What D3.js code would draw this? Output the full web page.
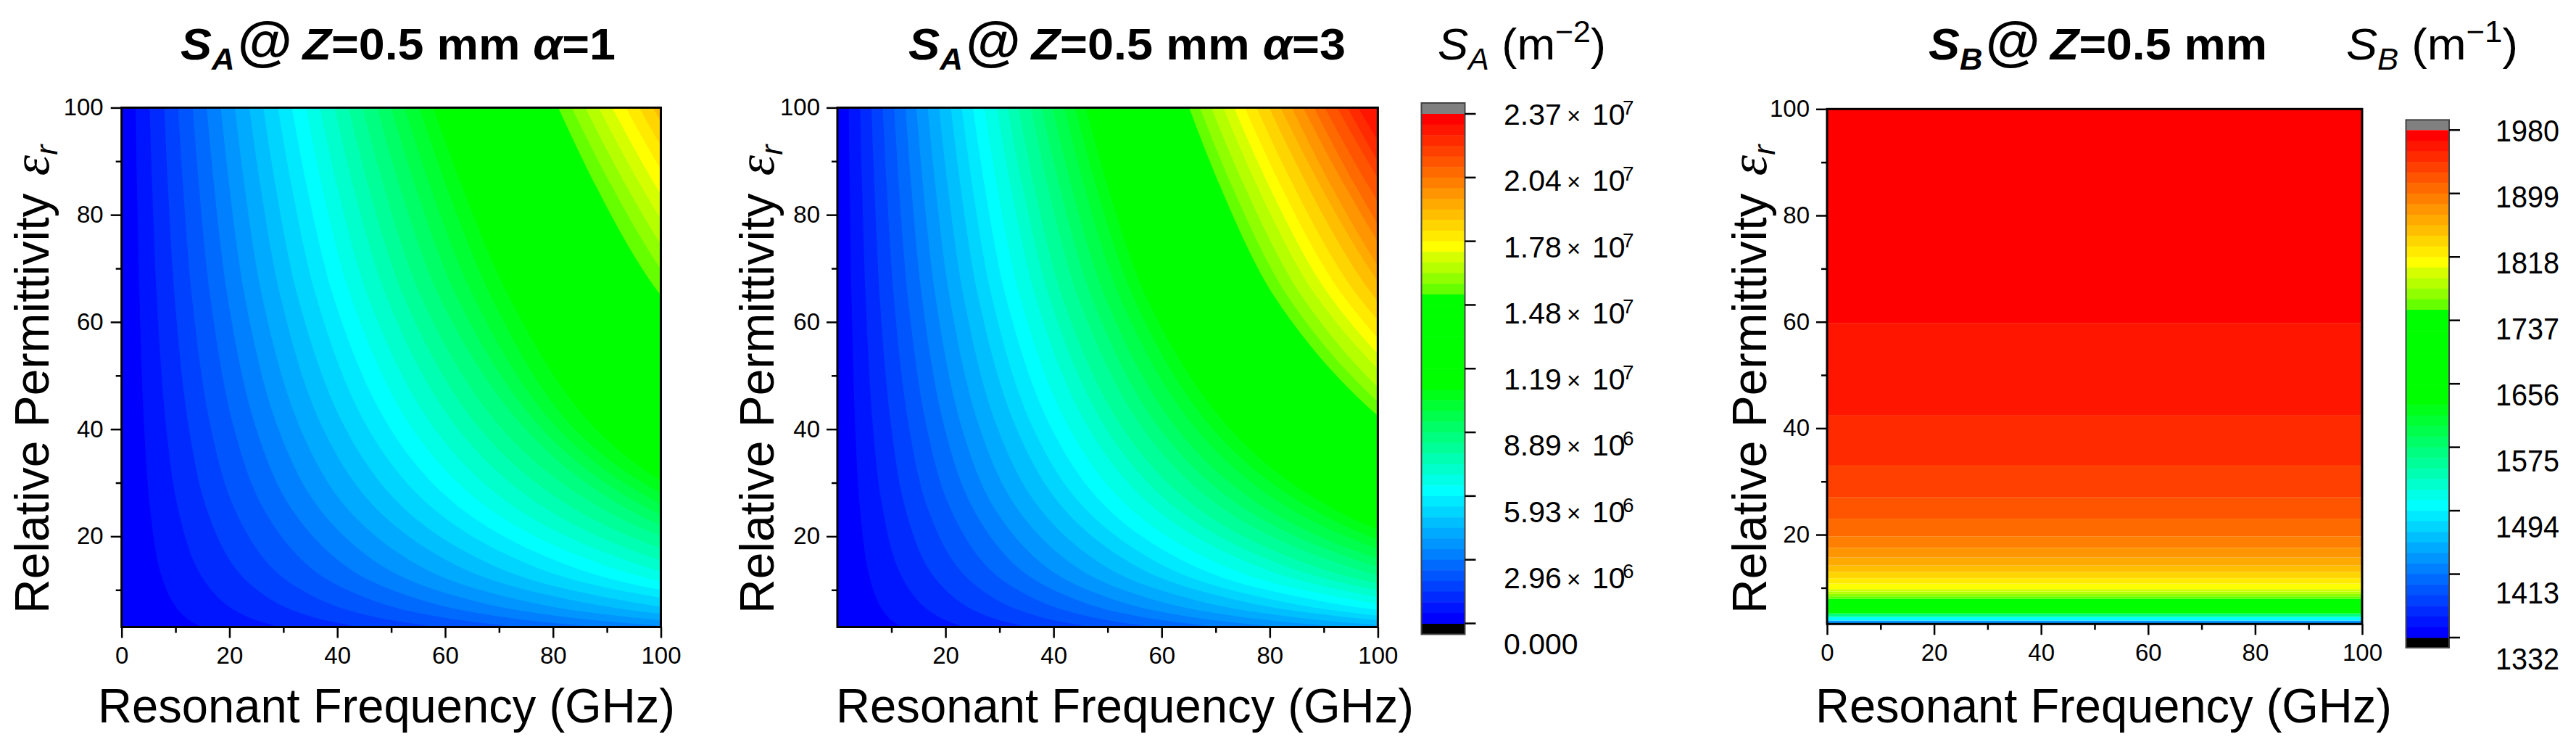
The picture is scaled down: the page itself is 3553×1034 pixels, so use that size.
<!DOCTYPE html>
<html>
<head>
<meta charset="utf-8">
<style>
  html, body { margin: 0; padding: 0; background: #fff; }
  text { font-family: "Liberation Sans", Arial, sans-serif; fill: #000; }
</style>
<script src="https://cdn.jsdelivr.net/npm/d3@7"></script>
</head>
<body>
<svg id="chart" width="3553" height="1034"></svg>
<script>
// colour bands, top of the colour bar (index 0) to bottom (index 47)
const bandColors = [
  "#ff0000", "#ff1500", "#ff2a00", "#ff4000", "#ff5500", "#ff6a00", "#ff8000", "#ff9500",
  "#ffaa00", "#ffbf00", "#ffd500", "#ffea00", "#ffff00", "#d5ff00", "#b5ff00", "#90ff00",
  "#66ff00", "#00ff00", "#00ff00", "#00ff00", "#00ff00", "#00ff00", "#00ff00", "#00ff00",
  "#00ff00", "#00ff00", "#00ff19", "#00ff33", "#00ff4d", "#00ff66", "#00ff80", "#00ff99",
  "#00ffb3", "#00ffcc", "#00ffe6", "#00ffff", "#00eaff", "#00d5ff", "#00bfff", "#00aaff",
  "#0095ff", "#0080ff", "#006aff", "#0055ff", "#0040ff", "#002aff", "#0015ff", "#0000ff"
];

const epsRows = [3.07, 5, 8, 14, 25, 40, 65, 100];

// S_A alpha=1: band entered when crossing a contour, then contour frequency (GHz) per epsRow
const sa1Bands = [46, 45, 44, 43, 42, 41, 40, 39, 38, 37, 36, 35, 34, 33, 32, 31, 30, 29, 28, 27, 26, 25,
  16, 15, 14, 13, 12, 11, 10, 9];
const sa1Contours = [
  [14.8, 11.7, 9.3, 7.0, 5.3, 4.2, 3.3, 2.6],
  [29.4, 23.3, 18.5, 14.0, 10.5, 8.3, 6.5, 5.2],
  [44.2, 35.2, 28.0, 21.1, 15.8, 12.5, 9.8, 7.9],
  [58.8, 46.7, 37.2, 28.0, 21.0, 16.6, 13.0, 10.5],
  [73.9, 58.7, 46.7, 35.2, 26.4, 20.9, 16.4, 13.2],
  [88.5, 70.3, 55.9, 42.2, 31.6, 25.0, 19.6, 15.8],
  [103, 81.9, 65.1, 49.1, 36.8, 29.1, 22.8, 18.4],
  [118, 93.5, 74.3, 56.1, 42, 33.2, 26, 21],
  [133, 105, 83.9, 63.3, 47.4, 37.4, 29.4, 23.7],
  [147, 117, 93.1, 70.2, 52.6, 41.6, 32.6, 26.3],
  [162, 129, 103, 77.4, 58, 45.8, 36, 29],
  [177, 141, 112, 84.4, 63.2, 49.9, 39.2, 31.6],
  [192, 152, 121, 91.3, 68.4, 54, 42.4, 34.2],
  [206, 164, 130, 98.3, 73.6, 58.1, 45.6, 36.8],
  [221, 176, 140, 105, 79, 62.4, 49, 39.5],
  [236, 187, 149, 112, 84.2, 66.5, 52.2, 42.1],
  [250, 199, 158, 119, 89.4, 70.6, 55.4, 44.7],
  [265, 211, 168, 125, 94, 74.9, 58.8, 47.4],
  [280, 223, 177, 130, 98, 78, 62, 50],
  [294, 234, 186, 136, 102, 81, 65.1, 52.5],
  [309, 246, 195, 142, 106, 84, 68.4, 55.2],
  [324, 257, 205, 148, 110, 88, 71.7, 57.8],
  [454, 360, 287, 216, 162, 128, 100, 81],
  [468, 372, 296, 223, 167, 132, 103.5, 83.5],
  [482, 383, 304, 230, 172, 136, 106.6, 86],
  [496, 394, 313, 236, 177, 140, 109.7, 88.5],
  [510, 405, 322, 243, 182, 144, 112.8, 91],
  [524, 416, 331, 250, 187, 148, 116, 93.5],
  [538, 427, 340, 256, 192, 152, 119, 96],
  [552, 438, 349, 263, 197, 156, 122, 98.5]
];

// S_A alpha=3
const sa3Bands = [46, 45, 44, 43, 42, 41, 40, 39, 38, 37, 36, 35, 34, 33, 32, 31, 30, 29, 28, 27, 26, 25,
  16, 15, 14, 13, 12, 11, 10, 9, 8, 7, 6, 5, 4, 3, 2, 1];
const sa3Contours = [
  [11.8, 9.3, 7.4, 5.6, 4.2, 3.3, 2.6, 2.1],
  [23.5, 18.7, 14.9, 11.2, 8.4, 6.6, 5.2, 4.2],
  [35.3, 28, 22.3, 16.8, 12.6, 10, 7.8, 6.3],
  [47, 37.4, 29.7, 22.4, 16.8, 13.3, 10.4, 8.4],
  [58.8, 46.7, 37.2, 28, 21, 16.6, 13, 10.5],
  [70.6, 56.1, 44.6, 33.6, 25.2, 19.9, 15.6, 12.6],
  [81.8, 65, 51.7, 39, 29.2, 23.1, 18.1, 14.6],
  [93.5, 74.3, 59.1, 44.6, 33.4, 26.4, 20.7, 16.7],
  [105, 83.7, 66.6, 50.2, 37.6, 29.7, 23.3, 18.8],
  [118, 93.5, 74.3, 56.1, 42, 33.2, 26, 21],
  [129, 102, 81.4, 61.4, 46, 36.3, 28.5, 23],
  [141, 112, 88.9, 67, 50.2, 39.7, 31.1, 25.1],
  [152, 121, 96.3, 72.6, 54.4, 43, 33.7, 27.2],
  [165, 131, 104, 78.8, 59, 46.6, 36.6, 29.5],
  [176, 140, 112, 84.1, 63, 49.8, 39.1, 31.5],
  [188, 149, 119, 89.4, 67, 52.9, 41.5, 33.5],
  [200, 159, 127, 95.6, 71.6, 56.6, 44.4, 35.8],
  [212, 168, 134, 101, 75.6, 59.7, 46.9, 37.8],
  [223, 177, 141, 106, 79.6, 62.9, 49.4, 39.8],
  [235, 187, 149, 112, 84, 66.4, 52.1, 42],
  [246, 196, 156, 117, 88, 69.5, 54.6, 44],
  [258, 205, 163, 123, 92, 72.7, 57, 46],
  [365, 290, 230, 174, 130, 103, 80.7, 65.1],
  [376, 299, 238, 179, 134, 106, 83.2, 67.1],
  [388, 308, 245, 185, 138, 109, 85.8, 69.2],
  [400, 318, 253, 191, 143, 113, 88.5, 71.4],
  [411, 327, 260, 196, 147, 116, 91, 73.4],
  [422, 336, 267, 201, 151, 119, 93.5, 75.4],
  [435, 345, 275, 207, 155, 123, 96.2, 77.6],
  [447, 356, 283, 213, 160, 126, 99.1, 79.9],
  [459, 365, 290, 219, 164, 130, 102, 82],
  [471, 374, 298, 225, 168, 133, 104, 84.1],
  [483, 384, 305, 230, 172, 136, 107, 86.2],
  [494, 392, 312, 235, 176, 139, 109, 88.2],
  [505, 401, 319, 241, 180, 143, 112, 90.2],
  [518, 412, 327, 247, 185, 146, 115, 92.5],
  [529, 420, 334, 252, 189, 149, 117, 94.4],
  [540, 429, 341, 257, 193, 152, 120, 96.4]
];

// S_B only changes with permittivity: band entered at each permittivity value
const sbEps = [3.2, 3.27, 3.86, 4.55, 5.18, 7.95, 8.4, 8.85, 9.3, 9.77, 10.8, 11.8, 13, 14.2, 15.7, 17.5, 19.7, 23, 27, 33.1, 42.5, 59.8];
const sbBands = [47, 40, 35, 30, 25, 16, 15, 14, 13, 12, 11, 10, 9, 8, 7, 6, 5, 4, 3, 2, 1, 0];

const xMajor = [0, 20, 40, 60, 80, 100];
const xMajorNoZero = [20, 40, 60, 80, 100];
const xMinor = [10, 30, 50, 70, 90];
const yMajor = [20, 40, 60, 80, 100];
const yMinor = [10, 30, 50, 70, 90];

const saBarLabels = [["2.37", "7"], ["2.04", "7"], ["1.78", "7"], ["1.48", "7"], ["1.19", "7"], ["8.89", "6"], ["5.93", "6"], ["2.96", "6"], ["0.000", ""]];
const sbBarLabels = ["1980", "1899", "1818", "1737", "1656", "1575", "1494", "1413", "1332"];

const svg = d3.select("#chart");

function drawAxes(g, x, y, opt) {
  const [x0, x1] = x.range();
  const [y1, y0] = y.range();

  g.append("rect")
    .attr("x", x0).attr("y", y0)
    .attr("width", x1 - x0).attr("height", y1 - y0)
    .attr("fill", "none").attr("stroke", "#000").attr("stroke-width", 3);

  const style = (sel, w) => {
    sel.select(".domain").remove();
    sel.selectAll("line").attr("stroke", "#000").attr("stroke-width", w);
    sel.selectAll("text").style("font-size", "33px").attr("fill", "#000");
  };

  g.append("g").attr("transform", `translate(0,${y1})`)
    .call(d3.axisBottom(x).tickValues(opt.xTicks).tickSize(15).tickPadding(opt.xPad))
    .call(style, 2.5);
  g.append("g").attr("transform", `translate(0,${y1})`)
    .call(d3.axisBottom(x).tickValues(xMinor).tickSize(8).tickFormat(""))
    .call(style, 2.5);
  g.append("g").attr("transform", `translate(${x0},0)`)
    .call(d3.axisLeft(y).tickValues(yMajor).tickSize(15).tickPadding(opt.yPad))
    .call(style, 2.5);
  g.append("g").attr("transform", `translate(${x0},0)`)
    .call(d3.axisLeft(y).tickValues(yMinor).tickSize(8).tickFormat(""))
    .call(style, 2.5);

  // axis titles
  g.append("text")
    .attr("x", opt.xTitle[0]).attr("y", 996)
    .attr("textLength", opt.xTitle[1]).attr("lengthAdjust", "spacingAndGlyphs")
    .style("font-size", "66px")
    .text("Resonant Frequency (GHz)");

  const yt = g.append("text")
    .attr("transform", `translate(${opt.yTitleX},846) rotate(-90)`)
    .style("font-size", "66px");
  yt.append("tspan").text("Relative Permittivity ");
  yt.append("tspan").attr("font-family", "Liberation Serif").attr("font-style", "italic").attr("dx", 6).style("font-size", "72px").text("ε");
  yt.append("tspan").attr("font-style", "italic").attr("dy", 12).style("font-size", "42px").text("r");
}

function drawContourPanel(id, bands, contours, box, opt) {
  const x = d3.scaleLinear().domain([0, 100]).range([box.x0, box.x1]);
  const y = d3.scaleLinear().domain([3.07, 100]).range([box.y1, box.y0]);
  const g = svg.append("g");

  svg.append("clipPath").attr("id", id)
    .append("rect")
    .attr("x", box.x0).attr("y", box.y0)
    .attr("width", box.x1 - box.x0).attr("height", box.y1 - box.y0);

  const plot = g.append("g").attr("clip-path", `url(#${id})`);
  plot.append("rect")
    .attr("x", box.x0).attr("y", box.y0)
    .attr("width", box.x1 - box.x0).attr("height", box.y1 - box.y0)
    .attr("fill", bandColors[47]);

  const line = d3.line()
    .x((d) => x(d[0]))
    .y((d) => y(d[1]))
    .curve(d3.curveCatmullRom.alpha(0.5));

  // painter's order: each contour fills everything to its right
  plot.selectAll("path")
    .data(contours)
    .join("path")
    .attr("fill", (d, i) => bandColors[bands[i]])
    .attr("d", (d) => {
      const pts = d.map((f, i) => [f, epsRows[i]]);
      return `${line(pts)}L${x(700)},${y(100)}L${x(700)},${y(3.07)}Z`;
    });

  drawAxes(g, x, y, opt);
}

function drawStripPanel(id, box, opt) {
  const x = d3.scaleLinear().domain([0, 100]).range([box.x0, box.x1]);
  const y = d3.scaleLinear().domain([3.2, 100]).range([box.y1, box.y0]);
  const g = svg.append("g");

  g.selectAll("rect.band")
    .data(sbEps)
    .join("rect")
    .attr("class", "band")
    .attr("x", box.x0)
    .attr("width", box.x1 - box.x0)
    .attr("y", (d, i) => y(i + 1 < sbEps.length ? sbEps[i + 1] : 100))
    .attr("height", (d, i) => y(d) - y(i + 1 < sbEps.length ? sbEps[i + 1] : 100))
    .attr("fill", (d, i) => bandColors[sbBands[i]]);

  drawAxes(g, x, y, opt);
}

function drawColorBar(bar) {
  const g = svg.append("g");
  const y = d3.scaleBand().domain(d3.range(48)).range([bar.top, bar.bottom]).paddingInner(0);

  g.append("rect").attr("x", bar.x0).attr("y", bar.top - bar.cap)
    .attr("width", bar.x1 - bar.x0).attr("height", bar.cap).attr("fill", "#808080");
  g.append("rect").attr("x", bar.x0).attr("y", bar.bottom)
    .attr("width", bar.x1 - bar.x0).attr("height", bar.cap).attr("fill", "#000");

  g.selectAll("rect.step")
    .data(bandColors)
    .join("rect")
    .attr("class", "step")
    .attr("x", bar.x0)
    .attr("y", (d, i) => y(i))
    .attr("width", bar.x1 - bar.x0)
    .attr("height", y.bandwidth() + 0.5)
    .attr("fill", (d) => d);

  g.append("rect").attr("x", bar.x0).attr("y", bar.top - bar.cap)
    .attr("width", bar.x1 - bar.x0).attr("height", bar.bottom - bar.top + 2 * bar.cap)
    .attr("fill", "none").attr("stroke", "#444").attr("stroke-width", 2);

  const tickY = d3.scaleLinear().domain([0, 8]).range([bar.top, bar.bottom]);
  g.selectAll("line.tick")
    .data(d3.range(9))
    .join("line")
    .attr("class", "tick")
    .attr("x1", bar.x1).attr("x2", bar.x1 + 15)
    .attr("y1", (d) => tickY(d)).attr("y2", (d) => tickY(d))
    .attr("stroke", "#000").attr("stroke-width", 2.5);
  return g;
}

function title(x, width, sub, rest) {
  const t = svg.append("text").attr("x", x).attr("y", 82)
    .attr("font-weight", "bold")
    .attr("textLength", width).attr("lengthAdjust", "spacingAndGlyphs")
    .style("font-size", "62px");
  t.append("tspan").attr("font-style", "italic").text("S");
  t.append("tspan").attr("font-style", "italic").attr("dy", 14).style("font-size", "42px").text(sub);
  t.append("tspan").attr("dy", -14).attr("dx", 4).style("font-size", "74px").text("@");
  t.append("tspan").attr("dx", 14).attr("font-style", "italic").text("Z");
  t.append("tspan").text("=0.5 mm");
  if (rest) {
    t.append("tspan").text(" ");
    t.append("tspan").attr("font-style", "italic").text("α");
    t.append("tspan").text(rest);
  }
}

function barTitle(x, width, sub, sup) {
  const t = svg.append("text").attr("x", x).attr("y", 82)
    .attr("textLength", width).attr("lengthAdjust", "spacingAndGlyphs")
    .style("font-size", "62px");
  t.append("tspan").attr("font-style", "italic").text("S");
  t.append("tspan").attr("font-style", "italic").attr("dy", 14).style("font-size", "42px").text(sub);
  t.append("tspan").attr("dy", -14).text(" (m");
  t.append("tspan").attr("dy", -24).style("font-size", "42px").text(sup);
  t.append("tspan").attr("dy", 24).text(")");
}

// panels
drawContourPanel("clipA", sa1Bands, sa1Contours, { x0: 167.7, x1: 911.5, y0: 148.4, y1: 864.5 },
  { xTicks: xMajor, xPad: 12, yPad: 10, xTitle: [135, 796], yTitleX: 67 });
drawContourPanel("clipB", sa3Bands, sa3Contours, { x0: 1155, x1: 1900.4, y0: 148.4, y1: 864.5 },
  { xTicks: xMajorNoZero, xPad: 12, yPad: 9, xTitle: [1153, 797], yTitleX: 1067 });
drawStripPanel("clipC", { x0: 2520, x1: 3258, y0: 150.3, y1: 860.3 },
  { xTicks: xMajor, xPad: 12, yPad: 9, xTitle: [2504, 795], yTitleX: 2436 });

// titles
title(249, 600, "A", "=1");
title(1253, 603, "A", "=3");
title(2660, 467, "B", "");
barTitle(1983, 232, "A", "−2");
barTitle(3236, 237, "B", "−1");

// colour bars
const barA = drawColorBar({ x0: 1960.5, x1: 2020.5, top: 157, bottom: 859.5, cap: 15 });
const barB = drawColorBar({ x0: 3318.5, x1: 3378, top: 179.3, bottom: 879, cap: 14 });

const labelYA = d3.scaleLinear().domain([0, 8]).range([172, 902]);
saBarLabels.forEach((d, i) => {
  const t = barA.append("text").attr("x", 2074).attr("y", labelYA(i)).style("font-size", "41px");
  t.text(d[0]);
  if (d[1]) {
    barA.append("text").attr("x", 2161).attr("y", labelYA(i) - 1).style("font-size", "33px").text("×");
    barA.append("text").attr("x", 2196).attr("y", labelYA(i)).style("font-size", "41px").text("10");
    barA.append("text").attr("x", 2238).attr("y", labelYA(i) - 14).style("font-size", "28px").text(d[1]);
  }
});

const labelYB = d3.scaleLinear().domain([0, 8]).range([194.5, 922.5]);
barB.selectAll("text.lab")
  .data(sbBarLabels)
  .join("text")
  .attr("class", "lab")
  .attr("x", 3442)
  .attr("y", (d, i) => labelYB(i))
  .attr("textLength", 88)
  .attr("lengthAdjust", "spacingAndGlyphs")
  .style("font-size", "43px")
  .text((d) => d);
</script>
</body>
</html>
